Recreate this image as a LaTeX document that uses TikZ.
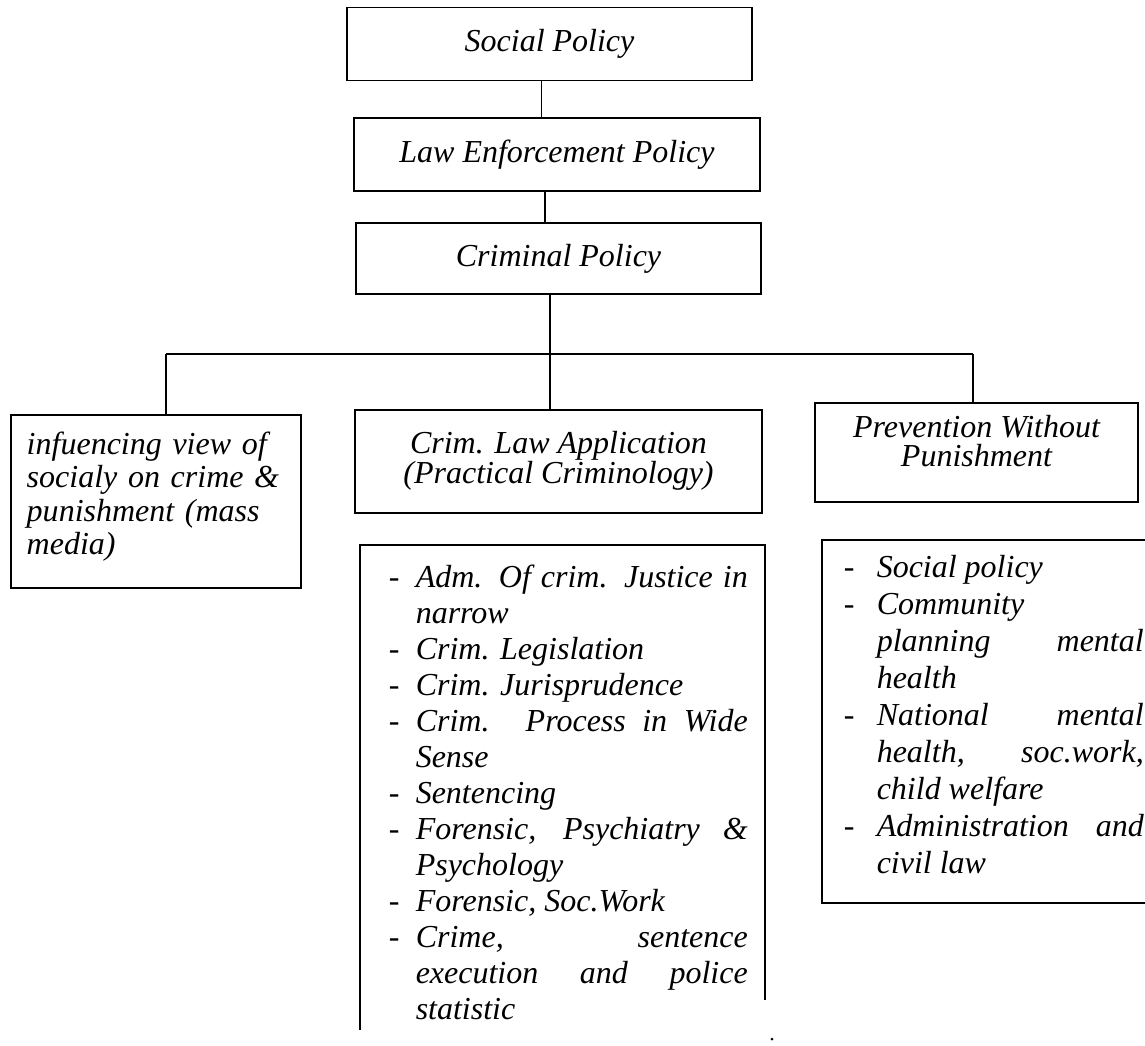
\documentclass[tikz,border=0pt]{standalone}
\usepackage{fontspec}
\setmainfont{Liberation Serif}
\tikzset{
  pbox/.style={draw, line width=1.5pt, inner sep=0pt, align=center,
    font=\itshape\fontsize{32}{29}\selectfont},
  listtext/.style={inner sep=0pt, anchor=north west, align=justify,
    font=\itshape\fontsize{32}{36}\selectfont},
}
% one dash item with hanging indent
\newcommand{\dashitem}[2]{\hangindent=#1\hangafter=1\noindent\makebox[#1][l]{\textup{-}}#2\par}
\begin{document}
\begin{tikzpicture}[x=1pt, y=-1pt, line width=1.5pt]
  \useasboundingbox (0,0) rectangle (1145,1046);
  % policy chain
  \node[pbox, minimum width=405pt, minimum height=73pt] (sp) at (549.5,44) {Social Policy};
  \node[pbox, minimum width=406pt, minimum height=73pt] (le) at (557,154.5) {Law Enforcement Policy};
  \node[pbox, minimum width=405pt, minimum height=71pt] (cp) at (558.5,258.5) {Criminal Policy};
  \draw ([xshift=-8pt]sp.south) -- ([xshift=-8pt]sp.south |- le.north);
  \draw ([xshift=-12pt]le.south) -- ([xshift=-12pt]le.south |- cp.north);
  % three branches
  \node[pbox, anchor=north west, align=left, text width=258pt, inner xsep=16pt, inner ysep=17pt,
    font=\itshape\fontsize{32}{33.5}\selectfont] (infl) at (10,414)
    {infuencing view of\\ socialy on crime \&\\ punishment (mass\\ media)\rule[-16pt]{0pt}{1pt}};
  \node[pbox, minimum width=407pt, minimum height=103pt] (crim) at (558.5,461.5)
    {Crim. Law Application\\(Practical Criminology)\rule[-8pt]{0pt}{1pt}};
  \node[pbox, minimum width=323pt, minimum height=99pt] (prev) at (976.5,452.5)
    {Prevention Without\\Punishment\rule[-24pt]{0pt}{1pt}};
  \coordinate (bus) at (550,354);
  \coordinate (busL) at (166,354);
  \coordinate (busR) at (973,354);
  \draw (cp.south -| bus) -- (bus);
  \draw (busL) -- (busR);
  \draw (busL) -- (busL |- infl.north);
  \draw (bus) -- (bus |- crim.north);
  \draw (busR) -- (busR |- prev.north);
  % lists
  \draw (360,1030) -- (360,545) -- (765,545) -- (765,1000);
  \node[listtext, text width=359pt] (crimlist) at (388,564) {%
    \dashitem{27pt}{Adm. Of crim. Justice in\linebreak narrow}
    \dashitem{27pt}{Crim. Legislation}
    \dashitem{27pt}{Crim. Jurisprudence}
    \dashitem{27pt}{Crim. Process in Wide\linebreak Sense}
    \dashitem{27pt}{Sentencing}
    \dashitem{27pt}{Forensic, Psychiatry \&\linebreak Psychology}
    \dashitem{27pt}{Forensic, Soc.Work}
    \dashitem{27pt}{Crime, sentence\linebreak execution and police\linebreak statistic}};
  \fill (772,1039) circle (1.5pt);
  \draw (1145,540) -- (822,540) -- (822,903) -- (1145,903);
  \node[listtext, text width=300pt, font=\itshape\fontsize{32}{37}\selectfont] (prevlist) at (843,555) {%
    \dashitem{33pt}{Social policy}
    \dashitem{33pt}{Community\\ planning mental\linebreak health}
    \dashitem{33pt}{National mental\linebreak health, soc.work,\linebreak child welfare}
    \dashitem{33pt}{Administration and\linebreak civil law}};
\end{tikzpicture}
\end{document}
